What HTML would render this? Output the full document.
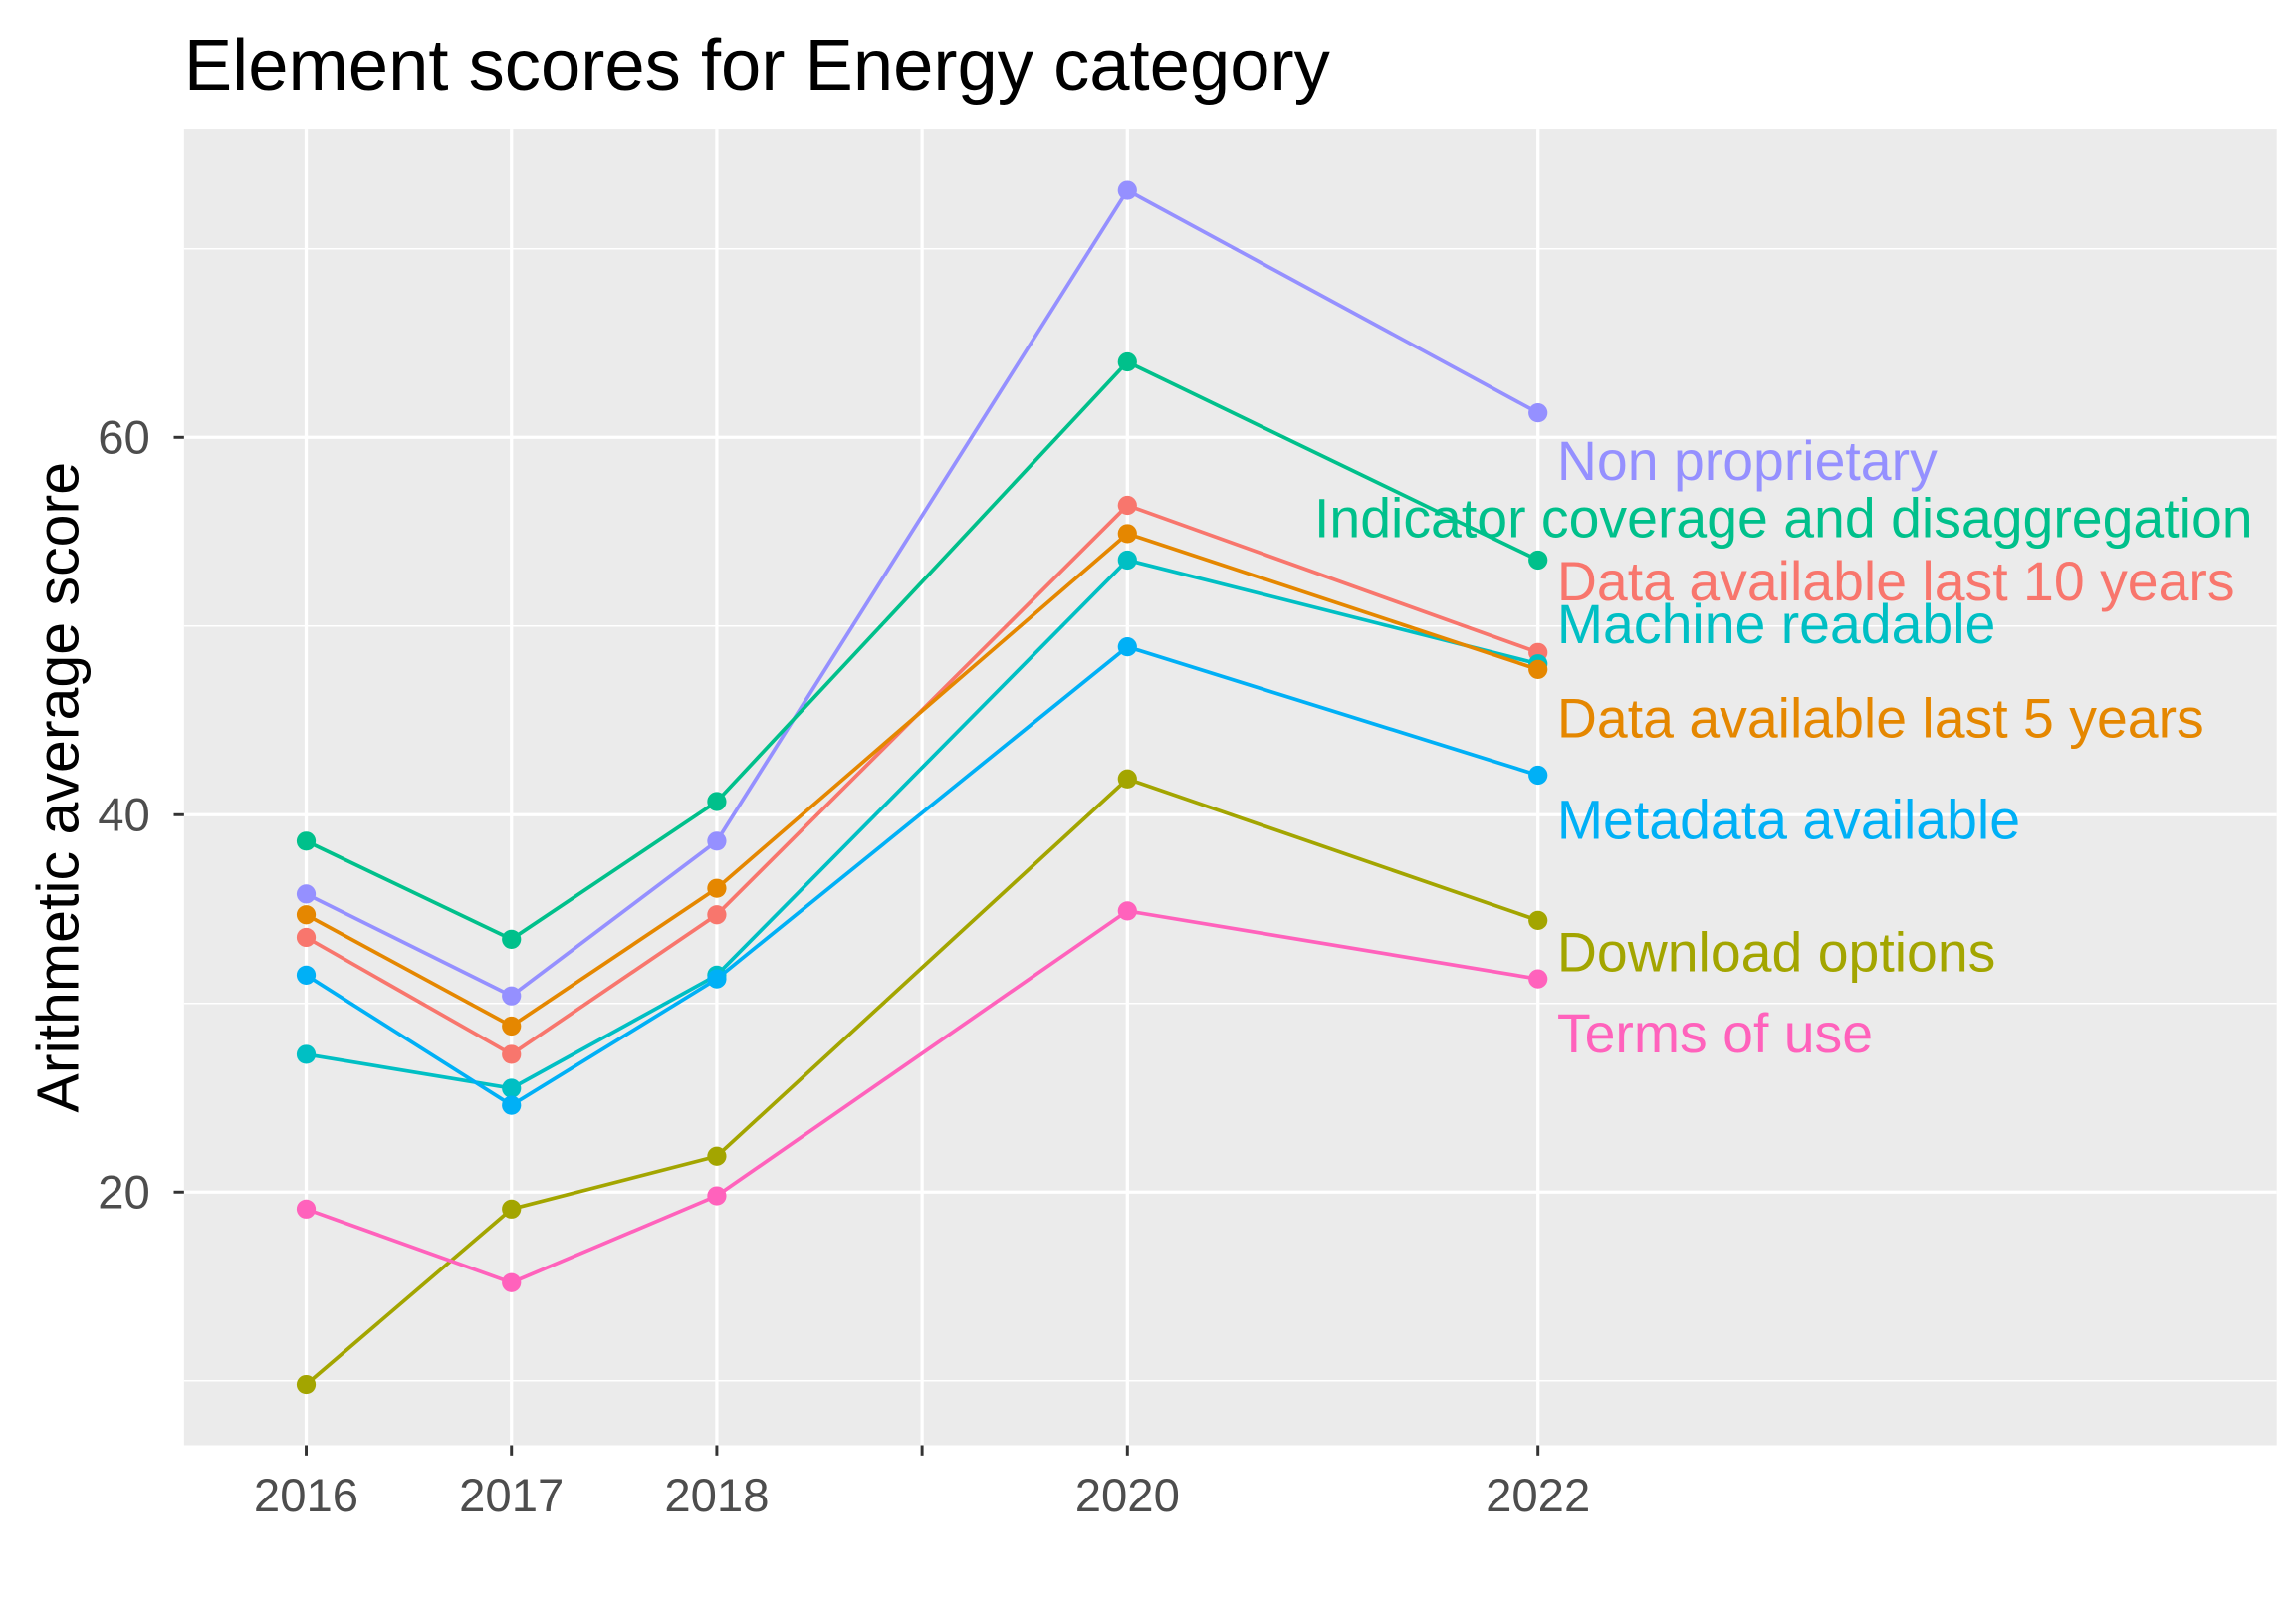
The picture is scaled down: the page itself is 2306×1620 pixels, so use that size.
<!DOCTYPE html>
<html><head><meta charset="utf-8">
<style>
html,body{margin:0;padding:0;background:#fff;}
svg{display:block;}
text{font-family:"Liberation Sans",Arial,sans-serif;}
</style></head>
<body>
<svg id="chart" width="2306" height="1620" viewBox="0 0 1560 1096" xmlns="http://www.w3.org/2000/svg">
<rect width="1560" height="1096" fill="#fff"/>
<text x="125" y="61" font-size="49" fill="#000">Element scores for Energy category</text>
<rect x="125" y="88" width="1422" height="894" fill="#EBEBEB"/>
<g id="grid"></g>
<g id="series"></g>
<g id="labels"></g>
<g id="axes"></g>
<text transform="translate(53,535) rotate(-90)" text-anchor="middle" font-size="40" fill="#000">Arithmetic average score</text>
</svg>
<script>
const years = [2016, 2017, 2018, 2020, 2022];
const seriesNames = ["Non proprietary","Indicator coverage and disaggregation","Data available last 10 years","Machine readable","Data available last 5 years","Metadata available","Download options","Terms of use"];
const nonProprietary = [35.8, 30.4, 38.6, 73.1, 61.3];
const indicatorCoverage = [38.6, 33.4, 40.7, 64.0, 53.5];
const dataLast10 = [33.5, 27.3, 34.7, 56.4, 48.6];
const machineReadable = [27.3, 25.5, 31.5, 53.5, 48.0];
const dataLast5 = [34.7, 28.8, 36.1, 54.9, 47.7];
const metadataAvailable = [31.5, 24.6, 31.3, 48.9, 42.1];
const downloadOptions = [9.8, 19.1, 21.9, 41.9, 34.4];
const termsOfUse = [19.1, 15.2, 19.8, 34.9, 31.3];
const xTicks = [2016, 2017, 2018, 2019, 2020, 2022];
const xTickLabels = ["2016","2017","2018","","2020","2022"];
const yTicks = [20, 40, 60];
const yMinor = [10, 30, 50, 70];

const allValues = [nonProprietary, indicatorCoverage, dataLast10, machineReadable, dataLast5, metadataAvailable, downloadOptions, termsOfUse];
const colors = ["#9590FF","#00C08B","#F8766D","#00BFC4","#E58700","#00B0F6","#A3A500","#FF62BC"];
const labelPos = [[1058,326],[893,365],[1058,408],[1058,437],[1058,501],[1058,570],[1058,660],[1058,715]];

const x = v => 208 + (v - 2016) * 139.5;
const y = v => 810 - (v - 20) * 12.82;
const NS = "http://www.w3.org/2000/svg";
function mk(tag, attrs, parent){const e=document.createElementNS(NS,tag);for(const k in attrs)e.setAttribute(k,attrs[k]);parent.appendChild(e);return e;}

const grid = document.getElementById('grid');
yMinor.forEach(v=>{const l=mk('line',{x1:125,x2:1547,y1:y(v),y2:y(v),stroke:'#fff','stroke-width':1},grid);

});
yTicks.forEach(v=>{const l=mk('line',{x1:125,x2:1547,y1:y(v),y2:y(v),stroke:'#fff','stroke-width':2.2},grid);

});
xTicks.forEach(v=>{const l=mk('line',{x1:x(v),x2:x(v),y1:88,y2:982,stroke:'#fff','stroke-width':2.2},grid);

});

const sg = document.getElementById('series');
allValues.forEach((vals,i)=>{
  const g = mk('g',{},sg);
  
  
  const pts = vals.map((v,j)=>x(years[j])+','+y(v)).join(' ');
  const pl = mk('polyline',{points:pts,fill:'none',stroke:colors[i],'stroke-width':2.5},g);
  
  
  vals.forEach((v,j)=>{const c=mk('circle',{cx:x(years[j]),cy:y(v),r:6.5,fill:colors[i]},g);
  
  });
});

const lg = document.getElementById('labels');
seriesNames.forEach((n,i)=>{const t=mk('text',{x:labelPos[i][0],y:labelPos[i][1],'font-size':37.5,fill:colors[i]},lg);t.textContent=n;

});

const ax = document.getElementById('axes');
yTicks.forEach(v=>{
  const tk=mk('line',{x1:118,x2:125,y1:y(v),y2:y(v),stroke:'#333','stroke-width':2},ax);
  
  
  const t=mk('text',{x:102,y:y(v)+11,'text-anchor':'end','font-size':32,fill:'#4D4D4D'},ax);t.textContent=v;
  
  
});
xTicks.forEach((v,i)=>{
  const tk=mk('line',{x1:x(v),x2:x(v),y1:982,y2:989,stroke:'#333','stroke-width':2},ax);
  
  
  const t=mk('text',{x:x(v),y:1027,'text-anchor':'middle','font-size':32,fill:'#4D4D4D'},ax);t.textContent=xTickLabels[i];
  
  
});
</script>
</body></html>
